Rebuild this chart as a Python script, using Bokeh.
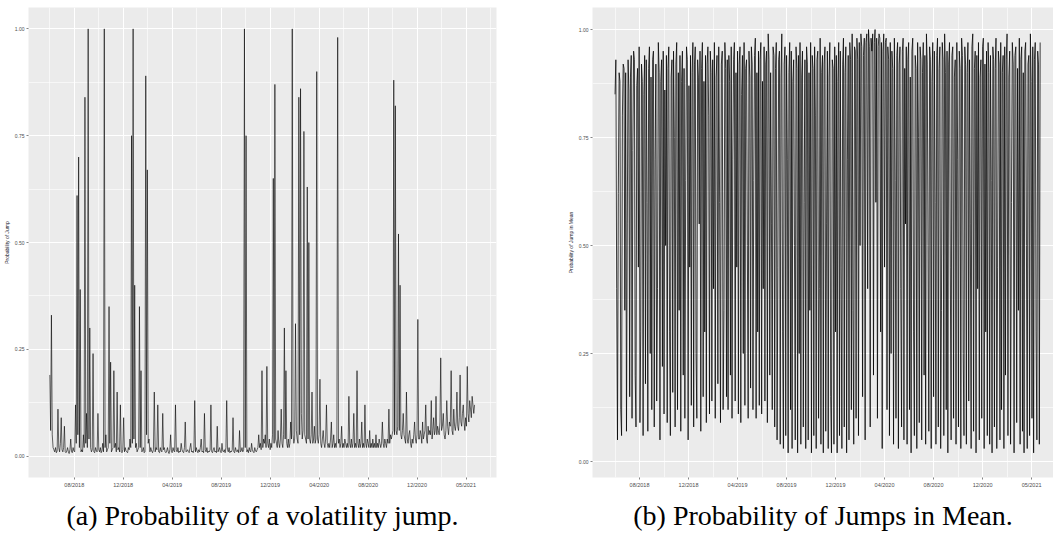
import pandas as pd
from bokeh.plotting import figure
from bokeh.layouts import row
from bokeh.models import FixedTicker, NumeralTickFormatter
from bokeh.embed import file_html
from bokeh.resources import INLINE

# ---- data -------------------------------------------------------------
start_date = "2018-06-01"
step = "2D"

tick_months = [7, 11, 15, 19, 23, 27, 31, 35, 39]
tick_labels = ["08/2018", "12/2018", "04/2019", "08/2019", "12/2019",
               "04/2020", "08/2020", "12/2020", "05/2021"]
minor_months = [5, 9, 13, 17, 21, 25, 29, 33, 37, 41]

y_ticks = [0.0, 0.25, 0.5, 0.75, 1.0]
y_minor = [0.125, 0.375, 0.625, 0.875]

vol_jump = [
    0.19, 0.06, 0.33, 0.05, 0.02, 0.015, 0.01, 0.02, 0.008, 0.012, 0.11, 0.02, 0.01, 0.03, 0.09, 0.015, 0.01, 0.02, 0.07, 0.01,
    0.008, 0.012, 0.02, 0.01, 0.006, 0.015, 0.04, 0.01, 0.008, 0.02, 0.012, 0.01, 0.12, 0.03, 0.61, 0.05, 0.70, 0.02, 0.39, 0.01,
    0.015, 0.01, 0.05, 0.02, 0.84, 0.03, 0.10, 0.02, 1.00, 0.04, 0.30, 0.02, 0.01, 0.015, 0.24, 0.01, 0.008, 0.02, 0.012, 0.01,
    0.10, 0.015, 0.01, 0.02, 0.008, 0.012, 0.03, 0.01, 1.00, 0.02, 0.05, 0.01, 0.015, 0.02, 0.35, 0.03, 0.22, 0.01, 0.015, 0.02,
    0.20, 0.02, 0.03, 0.01, 0.15, 0.015, 0.02, 0.01, 0.12, 0.01, 0.008, 0.015, 0.09, 0.01, 0.02, 0.012, 0.01, 0.008, 0.02, 0.015,
    0.04, 0.02, 0.75, 0.03, 1.00, 0.04, 0.40, 0.02, 0.03, 0.01, 0.015, 0.02, 0.35, 0.02, 0.20, 0.01, 0.012, 0.02, 0.008, 0.01,
    0.89, 0.05, 0.67, 0.03, 0.04, 0.01, 0.02, 0.012, 0.008, 0.015, 0.15, 0.01, 0.02, 0.015, 0.12, 0.01, 0.008, 0.02, 0.012, 0.01,
    0.10, 0.015, 0.02, 0.01, 0.008, 0.012, 0.02, 0.01, 0.006, 0.015, 0.05, 0.01, 0.008, 0.02, 0.012, 0.01, 0.12, 0.015, 0.01, 0.02,
    0.008, 0.012, 0.01, 0.03, 0.015, 0.01, 0.008, 0.02, 0.08, 0.01, 0.012, 0.015, 0.01, 0.008, 0.02, 0.03, 0.01, 0.012, 0.008, 0.015,
    0.13, 0.01, 0.02, 0.012, 0.008, 0.015, 0.01, 0.02, 0.04, 0.01, 0.012, 0.008, 0.10, 0.015, 0.01, 0.02, 0.008, 0.012, 0.01, 0.015,
    0.12, 0.01, 0.008, 0.015, 0.02, 0.01, 0.012, 0.008, 0.07, 0.01, 0.015, 0.02, 0.01, 0.008, 0.03, 0.012, 0.01, 0.015, 0.008, 0.02,
    0.13, 0.015, 0.01, 0.02, 0.008, 0.012, 0.01, 0.015, 0.09, 0.01, 0.008, 0.02, 0.012, 0.01, 0.015, 0.008, 0.06, 0.01, 0.012, 0.02,
    0.01, 0.015, 1.00, 0.02, 0.75, 0.01, 0.015, 0.008, 0.02, 0.012, 0.01, 0.03, 0.015, 0.01, 0.008, 0.02, 0.012, 0.01, 0.015, 0.02,
    0.05, 0.02, 0.03, 0.015, 0.20, 0.02, 0.04, 0.03, 0.05, 0.02, 0.21, 0.03, 0.02, 0.04, 0.015, 0.03, 0.02, 0.05, 0.65, 0.03,
    0.87, 0.04, 0.03, 0.02, 0.06, 0.03, 0.02, 0.04, 0.11, 0.03, 0.02, 0.05, 0.30, 0.04, 0.20, 0.03, 0.02, 0.04, 0.02, 0.03,
    0.08, 0.04, 1.00, 0.05, 0.03, 0.04, 0.31, 0.06, 0.04, 0.03, 0.84, 0.05, 0.86, 0.10, 0.04, 0.06, 0.76, 0.05, 0.04, 0.03,
    0.63, 0.04, 0.50, 0.04, 0.03, 0.05, 0.15, 0.03, 0.04, 0.07, 0.03, 0.04, 0.90, 0.04, 0.03, 0.05, 0.18, 0.03, 0.02, 0.04,
    0.06, 0.03, 0.02, 0.04, 0.12, 0.03, 0.02, 0.03, 0.02, 0.04, 0.08, 0.02, 0.03, 0.05, 0.02, 0.03, 0.02, 0.04, 0.98, 0.03,
    0.04, 0.02, 0.03, 0.07, 0.02, 0.03, 0.02, 0.04, 0.03, 0.02, 0.03, 0.02, 0.14, 0.03, 0.02, 0.04, 0.02, 0.03, 0.10, 0.02,
    0.03, 0.02, 0.20, 0.03, 0.02, 0.04, 0.02, 0.03, 0.08, 0.02, 0.03, 0.02, 0.12, 0.03, 0.02, 0.04, 0.03, 0.02, 0.06, 0.02,
    0.03, 0.02, 0.04, 0.02, 0.03, 0.02, 0.05, 0.02, 0.03, 0.02, 0.04, 0.03, 0.02, 0.03, 0.08, 0.03, 0.02, 0.04, 0.03, 0.02,
    0.04, 0.03, 0.11, 0.03, 0.05, 0.04, 0.05, 0.06, 0.88, 0.05, 0.82, 0.06, 0.05, 0.07, 0.52, 0.06, 0.40, 0.05, 0.04, 0.06,
    0.10, 0.05, 0.04, 0.03, 0.15, 0.04, 0.03, 0.05, 0.06, 0.03, 0.02, 0.04, 0.03, 0.05, 0.08, 0.04, 0.03, 0.05, 0.32, 0.04,
    0.04, 0.06, 0.05, 0.03, 0.08, 0.04, 0.05, 0.06, 0.12, 0.04, 0.03, 0.07, 0.05, 0.06, 0.05, 0.13, 0.04, 0.06, 0.09, 0.05,
    0.06, 0.14, 0.05, 0.07, 0.06, 0.05, 0.08, 0.23, 0.06, 0.07, 0.10, 0.05, 0.04, 0.06, 0.13, 0.07, 0.05, 0.08, 0.07, 0.20,
    0.06, 0.05, 0.11, 0.07, 0.06, 0.08, 0.15, 0.07, 0.06, 0.09, 0.19, 0.08, 0.07, 0.10, 0.12, 0.08, 0.06, 0.09, 0.07, 0.21,
    0.10, 0.08, 0.13, 0.11, 0.09, 0.14, 0.12, 0.10, 0.12,
]

mean_jump = [
    0.85, 0.93, 0.40, 0.05, 0.62, 0.90, 0.88, 0.12, 0.06, 0.80, 0.92, 0.91, 0.35, 0.90, 0.07, 0.55, 0.93, 0.86, 0.15, 0.89,
    0.94, 0.10, 0.72, 0.95, 0.93, 0.20, 0.08, 0.87, 0.91, 0.45, 0.96, 0.09, 0.30, 0.92, 0.88, 0.06, 0.85, 0.94, 0.18, 0.93,
    0.60, 0.07, 0.91, 0.96, 0.25, 0.89, 0.12, 0.93, 0.95, 0.08, 0.70, 0.92, 0.14, 0.40, 0.97, 0.90, 0.05, 0.88, 0.93, 0.22,
    0.95, 0.11, 0.86, 0.50, 0.94, 0.09, 0.91, 0.96, 0.30, 0.06, 0.89, 0.93, 0.16, 0.95, 0.75, 0.08, 0.92, 0.97, 0.12, 0.90,
    0.35, 0.94, 0.07, 0.88, 0.95, 0.20, 0.91, 0.10, 0.65, 0.96, 0.93, 0.05, 0.87, 0.45, 0.94, 0.13, 0.90, 0.97, 0.08, 0.92,
    0.96, 0.25, 0.10, 0.93, 0.89, 0.55, 0.95, 0.07, 0.91, 0.97, 0.15, 0.88, 0.30, 0.94, 0.09, 0.92, 0.96, 0.80, 0.11, 0.95,
    0.90, 0.14, 0.93, 0.40, 0.97, 0.10, 0.89, 0.94, 0.18, 0.96, 0.60, 0.09, 0.92, 0.95, 0.12, 0.35, 0.97, 0.91, 0.15, 0.93,
    0.12, 0.94, 0.88, 0.20, 0.96, 0.10, 0.70, 0.93, 0.97, 0.14, 0.90, 0.45, 0.95, 0.11, 0.92, 0.96, 0.09, 0.85, 0.94, 0.25,
    0.97, 0.13, 0.91, 0.93, 0.50, 0.10, 0.95, 0.89, 0.17, 0.96, 0.92, 0.12, 0.65, 0.94, 0.98, 0.10, 0.90, 0.30, 0.95, 0.13,
    0.93, 0.97, 0.11, 0.88, 0.40, 0.96, 0.14, 0.92, 0.95, 0.09, 0.99, 0.93, 0.20, 0.90, 0.55, 0.12, 0.96, 0.94, 0.08, 0.91,
    0.97, 0.05, 0.45, 0.93, 0.95, 0.04, 0.89, 0.99, 0.30, 0.03, 0.92, 0.96, 0.06, 0.94, 0.70, 0.02, 0.90, 0.97, 0.12, 0.95,
    0.03, 0.88, 0.93, 0.50, 0.05, 0.96, 0.91, 0.02, 0.94, 0.25, 0.97, 0.04, 0.89, 0.95, 0.08, 0.60, 0.93, 0.03, 0.96, 0.92,
    0.05, 0.90, 0.35, 0.97, 0.02, 0.94, 0.91, 0.06, 0.96, 0.80, 0.03, 0.93, 0.95, 0.10, 0.40, 0.98, 0.04, 0.90, 0.94, 0.02,
    0.92, 0.96, 0.07, 0.55, 0.95, 0.03, 0.89, 0.97, 0.15, 0.02, 0.93, 0.91, 0.04, 0.96, 0.30, 0.94, 0.02, 0.88, 0.97, 0.06,
    0.95, 0.45, 0.03, 0.92, 0.98, 0.08, 0.90, 0.96, 0.02, 0.70, 0.94, 0.05, 0.97, 0.93, 0.12, 0.99, 0.35, 0.04, 0.96, 0.95,
    0.10, 0.98, 0.93, 0.06, 0.97, 0.50, 0.99, 0.96, 0.15, 0.94, 0.98, 0.05, 0.97, 0.99, 0.40, 1.00, 0.96, 0.08, 0.98, 0.95,
    0.99, 0.20, 0.97, 1.00, 0.60, 0.98, 0.10, 0.96, 0.99, 0.98, 0.30, 0.97, 0.03, 0.95, 0.99, 0.45, 0.97, 0.98, 0.12, 0.96,
    0.93, 0.06, 0.97, 0.25, 0.95, 0.91, 0.04, 0.98, 0.65, 0.10, 0.94, 0.97, 0.03, 0.92, 0.96, 0.40, 0.08, 0.95, 0.98, 0.05,
    0.91, 0.55, 0.96, 0.04, 0.93, 0.97, 0.12, 0.89, 0.02, 0.95, 0.98, 0.30, 0.06, 0.94, 0.91, 0.03, 0.97, 0.75, 0.09, 0.96,
    0.93, 0.05, 0.90, 0.97, 0.20, 0.94, 0.04, 0.99, 0.92, 0.50, 0.07, 0.96, 0.93, 0.03, 0.88, 0.97, 0.15, 0.95, 0.60, 0.04,
    0.94, 0.98, 0.08, 0.91, 0.96, 0.03, 0.35, 0.97, 0.93, 0.06, 0.99, 0.90, 0.12, 0.95, 0.02, 0.92, 0.97, 0.45, 0.05, 0.94,
    0.96, 0.10, 0.89, 0.93, 0.04, 0.97, 0.70, 0.08, 0.95, 0.91, 0.03, 0.98, 0.94, 0.25, 0.06, 0.96, 0.92, 0.04, 0.90, 0.97,
    0.14, 0.93, 0.55, 0.03, 0.96, 0.99, 0.07, 0.91, 0.95, 0.02, 0.94, 0.40, 0.97, 0.05, 0.89, 0.93, 0.10, 0.96, 0.98, 0.03,
    0.92, 0.30, 0.95, 0.06, 0.97, 0.90, 0.04, 0.94, 0.65, 0.02, 0.96, 0.93, 0.08, 0.91, 0.98, 0.03, 0.45, 0.95, 0.92, 0.05,
    0.97, 0.12, 0.90, 0.94, 0.03, 0.96, 0.20, 0.93, 0.99, 0.06, 0.89, 0.95, 0.04, 0.60, 0.97, 0.92, 0.02, 0.94, 0.96, 0.09,
    0.91, 0.35, 0.98, 0.04, 0.93, 0.96, 0.07, 0.90, 0.02, 0.95, 0.97, 0.50, 0.03, 0.92, 0.94, 0.06, 0.99, 0.88, 0.10, 0.96,
    0.02, 0.93, 0.97, 0.30, 0.05, 0.95, 0.92, 0.04, 0.97,
]


def month_pos(n):
    d = pd.date_range(start_date, periods=n, freq=step)
    return list((d.year - 2018) * 12 + (d.month - 1) + (d.day - 1) / d.days_in_month)


def panel(values, ylab, caption, width, xr, yr, bl, br, lw):
    p = figure(width=width, height=541, x_range=xr, y_range=yr,
               output_backend="svg", toolbar_location=None,
               title=caption, title_location="below",
               min_border_left=bl, min_border_right=br,
               min_border_top=7, min_border_bottom=64)
    p.background_fill_color = "#EBEBEB"
    p.border_fill_color = "white"
    p.outline_line_color = None
    p.line(month_pos(len(values)), values, line_color="black", line_width=lw)

    p.xaxis.ticker = FixedTicker(ticks=tick_months, minor_ticks=minor_months)
    p.xaxis.major_label_overrides = {m: l for m, l in zip(tick_months, tick_labels)}
    p.yaxis.ticker = FixedTicker(ticks=y_ticks, minor_ticks=y_minor)
    p.yaxis.formatter = NumeralTickFormatter(format="0.00")
    p.yaxis.axis_label = ylab
    for ax in (p.xaxis, p.yaxis):
        ax.axis_line_color = None
        ax.major_tick_in = 0
        ax.major_tick_out = 2
        ax.minor_tick_in = 0
        ax.minor_tick_out = 0
        ax.major_tick_line_color = "#333333"
        ax.major_tick_line_width = 0.6
        ax.major_label_text_color = "#4D4D4D"
        ax.major_label_text_font = "Liberation Sans"
        ax.major_label_standoff = 2
    p.xaxis.major_label_text_font_size = "5.5px"
    p.yaxis.major_label_text_font_size = "5px"
    p.yaxis.axis_label_text_font_size = "5px"
    p.yaxis.axis_label_text_font_style = "normal"
    p.yaxis.axis_label_text_font = "Liberation Sans"
    p.yaxis.axis_label_text_color = "#1A1A2E"
    p.yaxis.axis_label_standoff = 2

    for g in (p.xgrid, p.ygrid):
        g.grid_line_color = "white"
        g.grid_line_width = 1.1
        g.minor_grid_line_color = "white"
        g.minor_grid_line_width = 0.6

    p.title.text_font = "Liberation Serif"
    p.title.text_font_size = "28px"
    p.title.text_font_style = "normal"
    p.title.text_color = "black"
    p.title.align = "center"
    p.title.standoff = 14
    return p


left = panel(vol_jump, "Probability of Jump", "(a) Probability of a volatility jump.",
             540, (3.26, 41.49), (-0.05, 1.05), 28, 44, 0.6)
right = panel(mean_jump, "Probability of Jump in Mean", "(b) Probability of Jumps in Mean.",
              513, (3.16, 40.79), (-0.037, 1.051), 52, 0, 0.75)

layout = row(left, right)
open("out.html", "w").write(file_html(layout, INLINE))
